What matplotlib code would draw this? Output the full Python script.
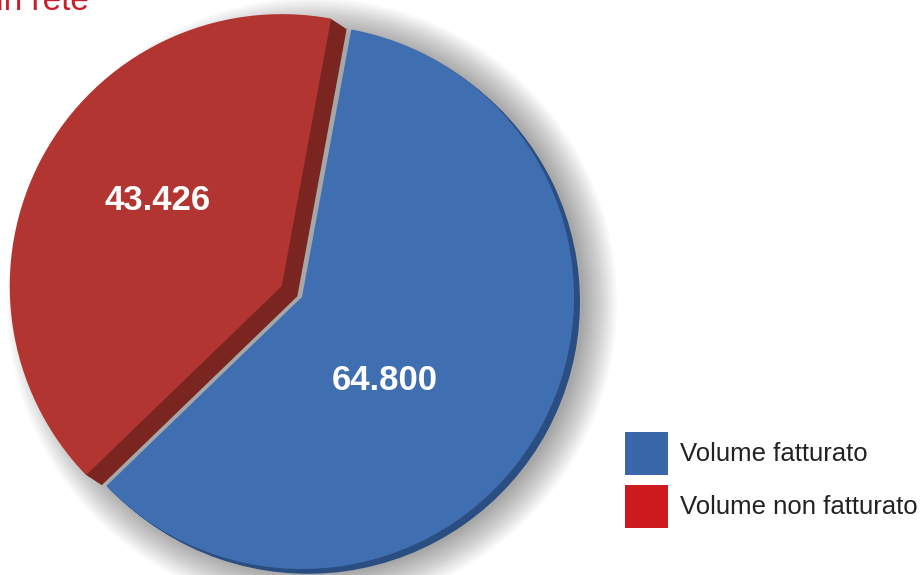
import matplotlib.pyplot as plt

labels = ['Volume fatturato', 'Volume non fatturato']
values = [64800, 43426]
value_text = ['64.800', '43.426']
top_colors = ['#3F6EB1', '#B33531']
side_colors = ['#2B4E82', '#7B2520']
legend_colors = ['#3A67AA', '#CC1A1F']
explodes = [0, 23]   # pie offsets in data units (pixels here)

W, H = 924, 575
fig = plt.figure(figsize=(W / 100, H / 100), dpi=100)
ax = fig.add_axes([0, 0, 1, 1])

cx, cy, r = 302, 278, 272
start = 224


def draw_pie(colors, center, radius=r, expl=explodes, alpha=1):
    ax.pie(values, colors=colors, startangle=start, explode=expl,
           radius=radius, center=center,
           wedgeprops=dict(linewidth=0, alpha=alpha), frame=True)


# soft shadow
for k in range(16):
    draw_pie(['#000000'] * 2, (cx + 10, cy - 6), radius=r + k * 2.2,
             expl=[0, 0], alpha=0.022)

# grey floor visible in the gap between the slices
draw_pie(['#A9A9A9'] * 2, (cx + 6, cy - 5), radius=r - 4, expl=[0, 12])

# side (depth) of the slices: red shows a deeper face than blue
for k in range(12, 0, -1):
    draw_pie(['none', side_colors[1]], (cx + k * 1.3, cy - k * 0.85))
for k in range(6, 0, -1):
    draw_pie([side_colors[0], 'none'], (cx + k * 1.0, cy - k * 0.8))

draw_pie(top_colors, (cx, cy))

ax.set_xlim(0, W)
ax.set_ylim(0, H)
ax.set_aspect('equal')
ax.axis('off')

# value labels
label_pos = [(385, 195), (158, 374)]
for txt, (x, y) in zip(value_text, label_pos):
    ax.text(x, y, txt, ha='center', va='center', color='white',
            fontsize=25, fontweight='bold', family='Liberation Sans')

# legend
for i, (lab, col) in enumerate(zip(labels, legend_colors)):
    y0 = H - 475 - i * 53
    ax.add_patch(plt.Rectangle((625, y0), 43, 43, color=col, lw=0))
    ax.text(680, y0 + 21, lab, ha='left', va='center', fontsize=18.5,
            color='#222222', family='Liberation Sans')

# title, cut by the top edge as in the source
ax.text(89, H - 10, 'Volume immesso in rete', ha='right', va='baseline',
        fontsize=24, color='#C8202A', family='Liberation Sans')

fig.savefig('out.png', dpi=100)
